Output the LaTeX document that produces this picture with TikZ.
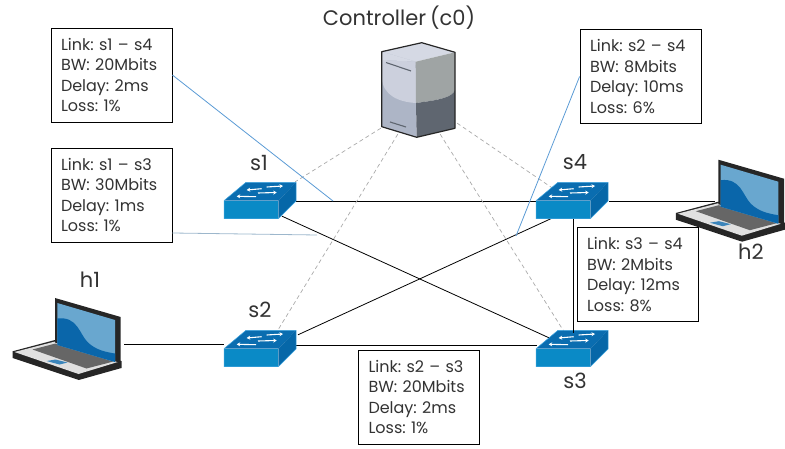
\documentclass[tikz,border=0pt]{standalone}
\usepackage{fontspec}
\setmainfont{Poppins}[WordSpace=.7]
\usetikzlibrary{arrows.meta,positioning,calc}
\definecolor{SwitchTop}{HTML}{0A6DB0}
\definecolor{SwitchFront}{HTML}{0A8AC6}
\definecolor{SwitchSide}{HTML}{0667A8}
\definecolor{SwitchEdge}{HTML}{3FA4DE}
\definecolor{ScreenDark}{HTML}{0A66AA}
\definecolor{ScreenLight}{HTML}{69A7CF}
\definecolor{LinkBlue}{HTML}{5B9BD5}
\definecolor{LinkPale}{HTML}{9DB7CC}
\definecolor{CtrlDash}{HTML}{A9A9A9}
\definecolor{SrvTop}{HTML}{D5D9E4}
\definecolor{SrvLeft}{HTML}{ADB5C6}
\definecolor{SrvGlow}{HTML}{CCD0DD}
\definecolor{SrvRight}{HTML}{9FA4A4}
\definecolor{SrvDark}{HTML}{5F6670}
\tikzset{
  devnode/.style={minimum width=72pt,minimum height=36pt,inner sep=0pt},
  hostnode/.style={minimum width=108pt,minimum height=60pt,inner sep=0pt},
  devlabel/.style={font=\fontsize{21}{21}\selectfont,text=black!80,inner sep=0pt},
  infobox/.style={draw=black,fill=white,line width=.8pt,minimum width=121pt,minimum height=94pt,inner sep=0pt,
    text width=101pt,align=left,font=\fontsize{16}{20.6}\selectfont\frenchspacing,text=black!80},
  datalink/.style={line width=.8pt,black},
  ctrllink/.style={line width=.7pt,CtrlDash,dash pattern=on 4pt off 3pt},
  pics/swicon/.style={code={
    \fill[SwitchTop] (-36,.7) -- (-14,-17.7) -- (36,-17.7) -- (18.3,.7) -- cycle;
    \fill[SwitchFront] (-36,.7) rectangle (18.3,18.7);
    \fill[SwitchSide] (18.3,.7) -- (36,-17.7) -- (36,1) -- (18.3,18.7) -- cycle;
    \draw[SwitchEdge,line width=.5pt,line join=round] (-36,.7) -- (-14,-17.7) -- (36,-17.7) -- (36,1) -- (18.3,18.7) -- (-36,18.7) -- cycle;
    \foreach \xa/\ya/\xb/\yb in {6.7/-13/23/-14,1.7/-11.3/-13.3/-10,-2/-7/16.7/-7.5,-4/-3.3/-23.3/-3.7}{
      \draw[white,line width=1.1pt,-{Stealth[length=3.5pt,width=4pt]}] (\xa,\ya) -- (\xb,\yb);}
  }},
  pics/lapicon/.style={code={
    % base
    \fill[black!85] (-55,-13.7) -- (-12.5,-25) -- (54,-4) -- (54,3) -- (11.3,15) -- (-55,-7) -- cycle;
    \fill[black!12] (-53,-13) -- (-12.5,-23.5) -- (52,-3.5) -- (11,9) -- cycle;
    \fill[black!60] (-35,-15.5) -- (-12,-21.5) -- (46,-3.5) -- (19,3.5) -- cycle;
    \fill[ScreenDark!80!white] (-21,-4) -- (-12,-5.5) -- (0,-2.5) -- (-8,-.5) -- cycle;
    % screen
    \fill[black!85] (-12.5,-67) -- (53.2,-48) -- (53.2,-2) -- (-12.5,-22.5) -- cycle;
    \fill[ScreenLight] (-10.2,-62) -- (47.5,-45) -- (47.5,-3) -- (-10.2,-20) -- cycle;
    \fill[ScreenDark] (-10.2,-46.5) .. controls (10,-49) and (12,-31) .. (20,-23) .. controls (28,-15) and (38,-13) .. (47.5,-11.5) -- (47.5,-3) -- (-10.2,-20) -- cycle;
  }},
  pics/srvicon/.style={code={
    \fill[SrvTop] (-36.3,-38.3) -- (3.7,-47.3) -- (37,-37.7) -- (-2.3,-28.3) -- cycle;
    \fill[SrvLeft] (-36.3,-38.3) -- (-2.3,-28.3) -- (-1.3,47.3) -- (-36.3,36.7) -- cycle;
    \fill[SrvGlow] (-36.3,-30) -- (-2.3,-28.3) -- (-2,13) .. controls (-20,12) and (-35,5) .. (-36.3,-12) -- cycle;
    \fill[SrvTop] (-36.3,-38.3) -- (-2.3,-28.3) -- (-36.3,-30) -- cycle;
    \fill[SrvRight] (-2.3,-28.3) -- (37,-37.7) -- (37,0) .. controls (34,8) and (20,10) .. (-2,13) -- cycle;
    \fill[SrvDark] (-2,13) .. controls (20,10) and (34,8) .. (37,0) -- (37,38.3) -- (-1.3,47.3) -- cycle;
    \draw[black!85,line width=1.2pt,line join=round] (-36.3,-38.3) -- (3.7,-47.3) -- (37,-37.7) -- (37,38.3) -- (-1.3,47.3) -- (-36.3,36.7) -- cycle;
    \draw[SrvDark,line width=1.1pt] (-32,-27.5) -- (-7,-19);
    \draw[SrvDark,line width=1.1pt] (-28,32) -- (-12,37);
  }},
}
\begin{document}
\begin{tikzpicture}[x=1pt,y=-1pt]
\useasboundingbox (0,0) rectangle (785,449);
% devices
\node[devnode] (s1) at (260,201) {};
\node[devnode] (s2) at (260,345) {};
\node[devnode] (s3) at (573,345) {};
\node[devnode] (s4) at (573,201) {};
\node[minimum width=76pt,minimum height=96pt,inner sep=0pt] (c0) at (418,90) {};
\node[hostnode] (h1) at (70,344) {};
\node[hostnode] (h2) at (769,201) {};
% links
\draw[datalink] (h1.east) -- (h1.east -| s2.west);
\draw[datalink] (s1.east) -- (s4.west);
\draw[datalink] (s2.east) -- (s3.west);
\draw[datalink] (s4.east) -- (h2.west);
\draw[datalink] ($(s1.south)+(22,-3)$) -- ($(s3.north)+(-24,11)$);
\draw[datalink] ($(s2.north)+(38,8)$) -- ($(s4.south)+(-21,-1)$);
% controller
\coordinate (c0a) at ($(c0.south west)+(1,-10)$);
\coordinate (c0b) at ($(c0.south west)+(18,-4)$);
\coordinate (c0c) at ($(c0.south east)+(-16,-4)$);
\coordinate (c0d) at ($(c0.south east)+(1,-15)$);
\draw[ctrllink] (c0a) -- ($(s1.north east)+(-1,-1)$);
\draw[ctrllink] (c0b) -- ($(s2.north)+(15,8)$);
\draw[ctrllink] (c0c) -- ($(s3.north)+(-7,8)$);
\draw[ctrllink] (c0d) -- ($(s4.north)+(-21,5)$);
\foreach \n/\dx/\dy in {s1/0/-1,s2/0/3,s3/-1/3,s4/-1/-1}{\pic at ($(\n)+(\dx,\dy)$) {swicon};}
\pic at (c0) {srvicon};
\pic at ($(h1)+(-2.5,21)$) {lapicon};
\pic at ($(h2)+(-38.2,25.7)$) {lapicon};
\draw[datalink] (s4.south) -- ($(s3.north)+(0,6)$);
% names
\node[devlabel] (lc0) at (399,18) {Controller (c0)};
\node[devlabel] (ls1) at (259,163) {s1};
\node[devlabel] (ls2) at (260,310) {s2};
\node[devlabel] (ls3) at (575,381) {s3};
\node[devlabel] (ls4) at (575,162) {s4};
\node[devlabel] (lh1) at (90,280) {h1};
\node[devlabel] (lh2) at (751,252) {h2};
% link boxes
\node[infobox] (b14) at (111.5,75) {Link: s1 – s4\\BW: 20Mbits\\Delay: 2ms\\Loss: 1\%};
\node[infobox] (b13) at (111.5,195) {Link: s1 – s3\\BW: 30Mbits\\Delay: 1ms\\Loss: 1\%};
\node[infobox] (b24) at (640.5,76.5) {Link: s2 – s4\\BW: 8Mbits\\Delay: 10ms\\Loss: 6\%};
\node[infobox] (b34) at (637.5,274.5) {Link: s3 – s4\\BW: 2Mbits\\Delay: 12ms\\Loss: 8\%};
\node[infobox] (b23) at (419,397) {Link: s2 – s3\\BW: 20Mbits\\Delay: 2ms\\Loss: 1\%};
\coordinate (t14) at (333,201);
\coordinate (t13) at (317,235);
\coordinate (t24) at (516,236);
\draw[LinkBlue,line width=.8pt] (b14.east) -- (t14);
\draw[LinkPale,line width=.8pt] (b13.east |- 0,233) -- (t13);
\draw[LinkBlue,line width=.8pt] (b24.west) -- (t24);
\end{tikzpicture}
\end{document}
